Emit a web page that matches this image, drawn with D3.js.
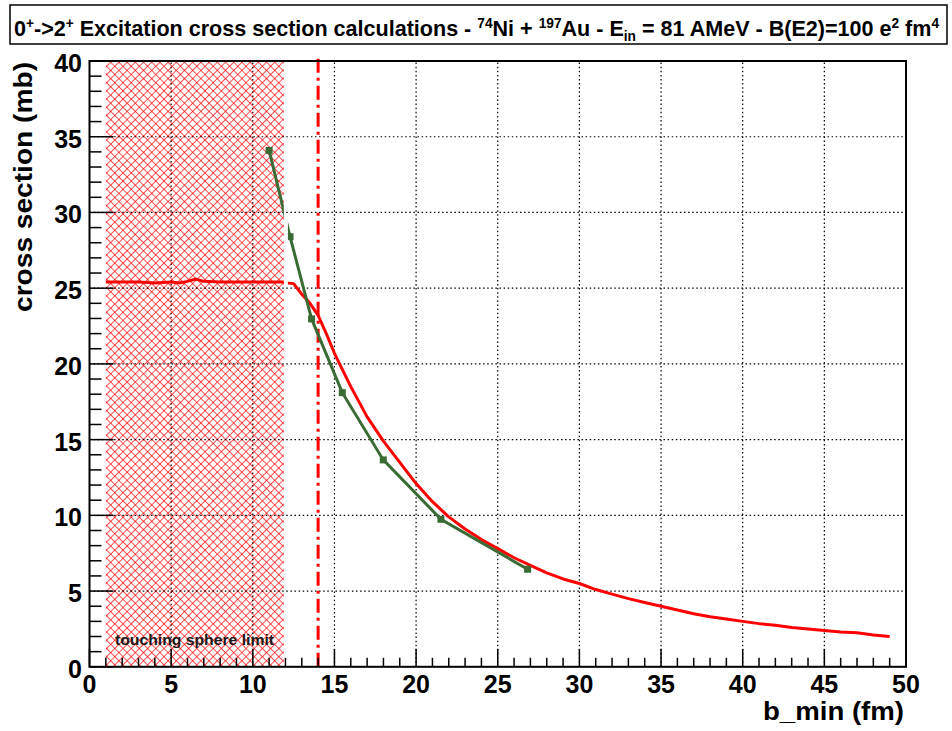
<!DOCTYPE html>
<html><head><meta charset="utf-8">
<script src="https://cdn.jsdelivr.net/npm/d3@7"></script>
<style>
html,body{margin:0;padding:0;background:#fff;}
svg text{font-family:"Liberation Sans",Arial,Helvetica,sans-serif;font-weight:bold;}
</style></head>
<body>
<svg id="c" width="952" height="731"></svg>
<script>
// ---- data ----
const xTicks = [0,5,10,15,20,25,30,35,40,45,50];
const yTicks = [0,5,10,15,20,25,30,35,40];
// red curve (calculation), inside touching-sphere region
const redInB  = [1,2,3,4,5,5.5,6,6.5,7,8,9,10,11,12];
const redInS  = [25.4,25.4,25.4,25.35,25.4,25.35,25.45,25.6,25.45,25.4,25.4,25.4,25.4,25.4];
// red curve outside
const redB = [12,12.5,13,13.5,14,14.5,15,16,17,18,19,20,21,22,23,24,25,26,27,28,29,30,31,32,33,34,35,36,37,38,39,40,41,42,43,44,45,46,47,48,49];
const redS = [25.35,25.3,24.6,24.0,23.2,22.0,20.7,18.5,16.5,14.9,13.5,12.1,10.9,9.9,9.1,8.4,7.8,7.2,6.7,6.2,5.8,5.5,5.1,4.8,4.5,4.25,4.0,3.75,3.5,3.3,3.15,3.0,2.85,2.75,2.6,2.5,2.4,2.3,2.25,2.1,2.0];
// green points
const greenB = [11.0,12.28,13.6,15.48,17.99,21.52,26.83];
const greenS = [34.1,28.4,22.97,18.1,13.66,9.74,6.44];
const touchLimit = [1,11.9];   // hatched region (fm)
const gapBand = [11.9,12.15];  // blank band in the curves
const bCut = 14;               // dash-dotted line
const xTitle = "b_min (fm)";
const yTitle = "cross section (mb)";
const regionLabel = "touching sphere limit";

// ---- chart ----
const svg = d3.select("#c");
const x = d3.scaleLinear().domain([0,50]).range([89.5,906]);
const y = d3.scaleLinear().domain([0,40]).range([666.8,61]);
const RED="#ff0000", GREEN="#3a6b35";

const defs = svg.append("defs");
const T = 8.2/Math.SQRT2;
const pat = defs.append("pattern").attr("id","hatch").attr("patternUnits","userSpaceOnUse")
  .attr("width",T).attr("height",T).attr("patternTransform","rotate(45)");
pat.append("path").attr("d",`M0,0.4H${T}M0.4,0V${T}`).attr("stroke",RED).attr("stroke-width",0.75)
  .attr("fill","none");
const clip = defs.append("clipPath").attr("id","gapclip");
clip.append("rect").attr("x",0).attr("y",0).attr("width",x(gapBand[0])).attr("height",731);
clip.append("rect").attr("x",x(gapBand[1])).attr("y",0).attr("width",952-x(gapBand[1])).attr("height",731);

// title box
svg.append("rect").attr("x",10).attr("y",5).attr("width",937).attr("height",39)
  .attr("fill","#fff").attr("stroke","#000").attr("stroke-width",1.5);
const title = svg.append("text").attr("font-size",22).attr("fill","#000");
const parts = [["0",0],["+",1],["->2",0],["+",1],[" Excitation cross section calculations - ",0],["74",1],["Ni + ",0],["197",1],["Au - E",0],["in",-1],[" = 81 AMeV - B(E2)=100 e",0],["2",1],[" fm",0],["4",1]];
parts.forEach(p=>{
  const t = title.append("tspan").text(p[0]);
  if(p[1]===1){t.attr("font-size",14).attr("baseline-shift","8");}
  if(p[1]===-1){t.attr("font-size",14).attr("baseline-shift","-5");}
});
{
  const w = title.node().getBBox().width;
  title.attr("transform",`translate(14,36) scale(${926/w},1)`);
}

// hatched region
svg.append("rect").attr("x",x(touchLimit[0])).attr("y",y(40))
  .attr("width",x(touchLimit[1])-x(touchLimit[0])).attr("height",y(0)-y(40))
  .attr("fill","url(#hatch)");

// grid
const grid = svg.append("g").attr("stroke","#000").attr("stroke-width",1.2).attr("stroke-dasharray","1.5,2.6");
xTicks.slice(1,-1).forEach(v=>grid.append("line").attr("x1",x(v)).attr("x2",x(v)).attr("y1",y(0)).attr("y2",y(40)));
yTicks.slice(1,-1).forEach(v=>grid.append("line").attr("x1",x(0)).attr("x2",x(50)).attr("y1",y(v)).attr("y2",y(v)));

// dash-dot line
svg.append("line").attr("x1",x(bCut)).attr("x2",x(bCut)).attr("y1",y(0)).attr("y2",y(40)-6)
  .attr("stroke",RED).attr("stroke-width",3).attr("stroke-dasharray","14,5,3,5");

// curves
const curves = svg.append("g").attr("clip-path","url(#gapclip)");
const line = d3.line().x(d=>x(d[0])).y(d=>y(d[1]));
curves.append("path").attr("d",line(redInB.map((b,i)=>[b,redInS[i]])))
  .attr("fill","none").attr("stroke",RED).attr("stroke-width",3);
curves.append("path").attr("d",line(redB.map((b,i)=>[b,redS[i]])))
  .attr("fill","none").attr("stroke",RED).attr("stroke-width",3).attr("stroke-linejoin","round");
curves.append("path").attr("d",line(greenB.map((b,i)=>[b,greenS[i]])))
  .attr("fill","none").attr("stroke",GREEN).attr("stroke-width",3);
curves.selectAll("rect.m").data(greenB.map((b,i)=>[b,greenS[i]])).enter().append("rect")
  .attr("x",d=>x(d[0])-3.5).attr("y",d=>y(d[1])-3.5).attr("width",7).attr("height",7).attr("fill",GREEN);

// region label
svg.append("text").attr("x",115).attr("y",645).attr("font-size",14.5).attr("fill","#1a1a1a")
  .attr("textLength",159).attr("lengthAdjust","spacingAndGlyphs").text(regionLabel);

// frame
svg.append("rect").attr("x",x(0)).attr("y",y(40)).attr("width",x(50)-x(0)).attr("height",y(0)-y(40))
  .attr("fill","none").attr("stroke","#000").attr("stroke-width",2);

// ticks
const tk = svg.append("g").attr("stroke","#000").attr("stroke-width",1.5);
d3.range(0,51,1).forEach(v=>{
  const L = v%5===0?18:9;
  tk.append("line").attr("x1",x(v)).attr("x2",x(v)).attr("y1",y(0)).attr("y2",y(0)-L);
});
d3.range(0,41,1).forEach(v=>{
  const L = v%5===0?24:12;
  tk.append("line").attr("x1",x(0)).attr("x2",x(0)+L).attr("y1",y(v)).attr("y2",y(v));
});

// tick labels
svg.append("g").selectAll("text").data(xTicks).enter().append("text")
  .attr("x",d=>x(d)).attr("y",693).attr("text-anchor","middle").attr("font-size",25).text(d=>d);
svg.append("g").selectAll("text").data(yTicks).enter().append("text")
  .attr("x",82).attr("y",d=>y(d)+11).attr("text-anchor","end").attr("font-size",25).text(d=>d);

// axis titles
svg.append("text").attr("x",904).attr("y",720).attr("text-anchor","end").attr("font-size",25)
  .attr("textLength",141).attr("lengthAdjust","spacingAndGlyphs").text(xTitle);
svg.append("text").attr("transform","translate(32,62) rotate(-90)").attr("text-anchor","end")
  .attr("font-size",25).attr("textLength",250).attr("lengthAdjust","spacingAndGlyphs").text(yTitle);
</script>
</body></html>
